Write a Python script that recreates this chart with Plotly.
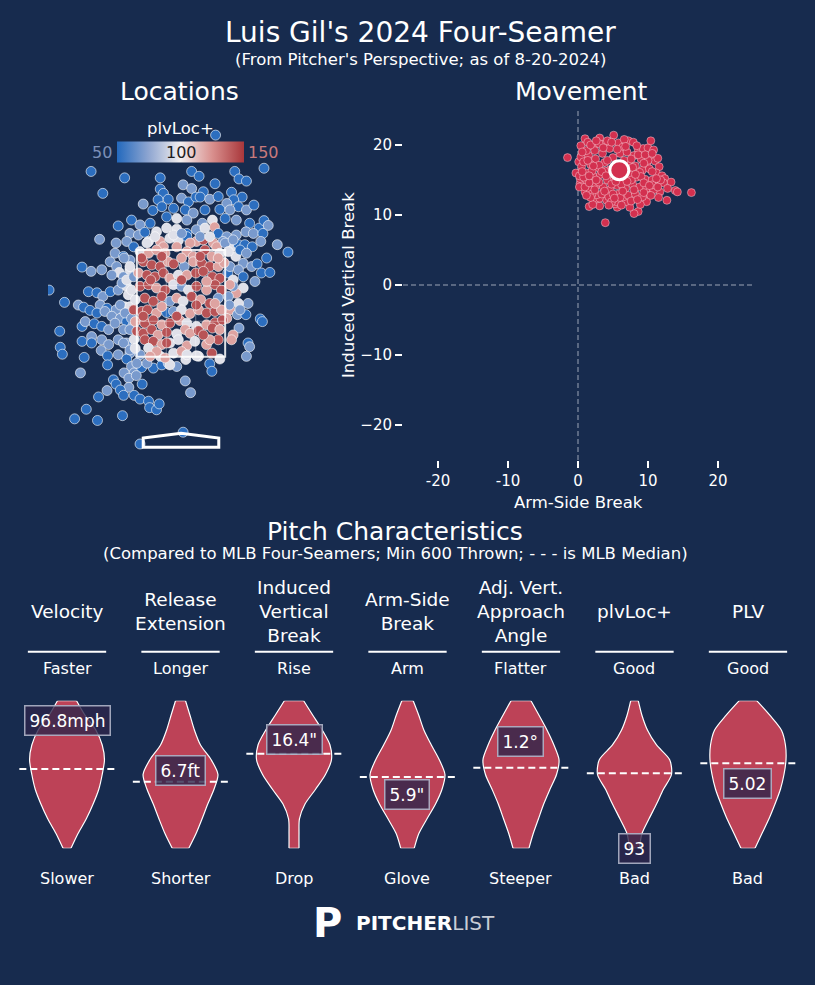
import plotly.graph_objects as go

BG = "#172B4E"
FONT = "DejaVu Sans"
RED = "#D3304F"
VIOLIN = "#BD4257"

# ---- pitch locations (ft, pitcher's view) and plvLoc+ of each pitch ----
loc_x = [
    0.65, -1.69, -1.06, -0.39, 0.20, 0.34, 1.01, 1.09, 1.23, 1.56,
    -1.47, 0.64, 0.04, 0.20, -0.39, -0.33, 0.42, 0.95, 1.15, 0.99,
    -0.71, -0.43, -0.24, 0.01, 0.14, 0.28, 0.36, 0.54, 0.70, 0.86,
    1.08, 1.23, 1.37, -0.53, -0.36, -0.14, -0.08, 0.08, 0.23, 0.45,
    0.73, 0.92, -0.93, -0.77, -0.58, -0.27, 0.11, 0.40, 0.59, 0.83,
    1.04, 1.29, 1.47, 1.56, 1.64, -1.18, -0.96, -0.80, -0.68, -0.46,
    -0.27, -0.08, 0.11, 0.29, 0.45, 0.63, 0.70, 0.86, 1.04, 1.22,
    1.36, 1.54, -1.53, -1.22, -1.02, -0.89, -0.61, -0.39, -0.21, -0.05,
    0.11, 0.29, 0.42, 0.61, 0.79, 0.95, 1.08, 1.20, 1.34, 1.50,
    1.81, 2.01, -1.24, -1.08, -0.96, -1.33, -1.21, -1.16, -1.86, -1.69,
    -1.49, -1.30, -1.08, -0.96, 1.03, 1.17, 1.33, 1.43, 1.61, 1.51,
    1.67, 1.39, 0.88, 0.98, 1.17, 1.04, 0.89, -2.48, -1.74, -1.58,
    -1.47, -1.33, -1.18, -1.02, -0.99, -2.19, -1.93, -1.83, -1.71, -1.52,
    -1.39, -1.22, -1.06, -1.58, -1.43, -1.30, -1.14, -1.02, 1.26, 1.08,
    0.92, 0.86, 1.06, 1.22, -2.28, -1.86, -1.80, -1.63, -1.49, -1.36,
    -1.24, -1.08, -0.91, -1.68, -1.86, -1.68, -1.49, -1.36, -1.18, -1.02,
    -0.88, 1.09, 0.98, 0.95, 1.49, 1.53, 1.26, 1.29, 1.23, -2.27,
    -2.23, -1.82, -1.50, -1.38, -1.18, -0.96, -0.77, -1.38, -1.02, -0.93,
    -0.88, -0.74, -1.89, -1.27, -1.22, -1.07, -0.98, -0.84, -0.52, -0.36,
    -0.24, -0.08, 0.09, 0.54, 0.58, 0.73, 0.33, -0.73, -0.98, -1.14,
    -1.08, -1.39, -1.55, 0.08, 0.18, -0.88, -0.77, -0.61, -0.59, -0.46,
    -0.41, -1.78, -2.00, -1.57, -1.10, 0.04, -0.77,
    -1.07, -0.96, -1.11, -1.02, -0.89, -0.93, -1.14, -0.96, -1.05, -0.93,
    -0.96, -1.08, -0.96, -0.83, -0.64, -0.39, -0.21, -0.64, -0.49, -0.33,
    -0.14, 0.01, 0.17, 0.36, 0.54, 0.67, 0.83, 0.98, 1.11, 1.23,
    0.92, 1.08, 0.98, 1.17, 0.91, 1.11,
    -0.77, -0.61, -0.46, -0.30, -0.08, 0.11, 0.23, 0.45, 0.58, 0.73,
    0.89, -0.71, -0.55, -0.39, -0.24, -0.14, 0.06, 0.23, 0.39, 0.54,
    0.70, 0.81, -0.80, -0.64, -0.49, -0.33, -0.21, -0.05, 0.11, 0.28,
    0.42, 0.59, 0.73, -0.77, -0.61, -0.46, -0.30, -0.14, 0.01, 0.14,
    0.29, 0.48, 0.64, 0.76, 0.92, -0.86, -0.68, -0.52, -0.36, -0.21,
    -0.08, 0.04, 0.20, 0.37, 0.54, 0.70, -0.89, -0.74, -0.63, -0.46,
    -0.27, -0.14, 0.01, 0.17, 0.33, 0.48, 0.64, 0.76, -0.86, -0.68,
    -0.52, -0.36, -0.21, -0.02, 0.11, 0.29, 0.48, 0.64, 0.78, -0.83,
    -0.71, -0.55, -0.43, -0.27, -0.08, 0.08, 0.17, 0.33, 0.59, 0.73,
    -0.68, -0.52, -0.36, -0.21, -0.05, 0.11, 0.26, 0.48, 0.70, 0.54,
    -0.86, -0.61, -0.46, -0.30, -0.14, 0.01, 0.29,
    -0.74, -0.36, 0.01, 0.36, 0.70, -0.57, 0.01, 0.48, -0.36, 0.29,
    -0.71, -0.08, 0.64, -0.27, 0.42, -0.58, 0.11, 0.58,
]
loc_y = [
    5.65, 4.97, 4.85, 4.85, 4.97, 4.88, 4.97, 4.83, 4.79, 5.03,
    4.56, 4.74, 4.72, 4.65, 4.64, 4.56, 4.59, 4.58, 4.49, 4.44,
    4.36, 4.44, 4.45, 4.47, 4.40, 4.49, 4.49, 4.45, 4.50, 4.37,
    4.31, 4.25, 4.34, 4.24, 4.31, 4.28, 4.09, 4.25, 4.19, 4.25,
    4.26, 4.25, 4.06, 3.97, 4.00, 4.12, 4.06, 4.00, 4.06, 4.09,
    4.06, 4.00, 3.91, 4.05, 3.96, 3.95, 3.81, 3.78, 3.83, 3.84,
    3.91, 3.89, 3.81, 3.88, 3.91, 3.93, 3.81, 3.75, 3.78, 3.84,
    3.81, 3.81, 3.70, 3.63, 3.66, 3.56, 3.66, 3.66, 3.72, 3.68,
    3.75, 3.66, 3.69, 3.63, 3.66, 3.56, 3.60, 3.60, 3.56, 3.66,
    3.60, 3.46, 3.44, 3.38, 3.31, 3.28, 3.19, 3.08, 3.18, 3.10,
    3.13, 3.03, 3.00, 3.13, 3.38, 3.25, 3.19, 3.24, 3.35, 3.07,
    3.08, 2.91, 3.07, 2.94, 2.79, 2.69, 2.63, 2.75, 2.72, 2.70,
    2.63, 2.72, 2.75, 2.82, 2.66, 2.52, 2.47, 2.43, 2.37, 2.47,
    2.41, 2.38, 2.44, 2.32, 2.35, 2.26, 2.22, 2.16, 2.50, 2.50,
    2.38, 2.22, 2.29, 2.29, 1.98, 2.07, 2.16, 2.12, 2.07, 2.01,
    2.13, 2.01, 2.07, 1.88, 1.79, 1.76, 1.82, 1.73, 1.82, 1.76,
    1.83, 2.04, 1.91, 1.82, 2.21, 2.16, 1.76, 1.69, 1.51, 1.68,
    1.55, 1.49, 1.62, 1.52, 1.54, 1.57, 1.54, 1.35, 1.46, 1.32,
    1.20, 1.30, 1.20, 1.07, 0.99, 1.20, 1.10, 1.15, 1.29, 1.35,
    1.38, 1.32, 1.45, 1.37, 1.23, 1.46, 1.51, 0.99, 0.93, 0.88,
    0.78, 0.87, 0.75, 1.05, 0.83, 0.78, 0.71, 0.67, 0.55, 0.51,
    0.62, 0.52, 0.34, 0.31, 0.40, 0.09, -0.13,
    3.35, 3.19, 2.88, 2.94, 3.00, 2.75, 2.47, 2.44, 2.32, 2.22,
    2.01, 1.76, 1.63, 1.38, 1.38, 1.51, 1.35, 3.63, 3.75, 3.56,
    3.78, 3.81, 3.63, 3.75, 3.75, 3.56, 3.63, 3.69, 3.50, 3.44,
    3.19, 3.13, 2.82, 3.00, 2.47, 2.38,
    3.47, 3.44, 3.50, 3.44, 3.56, 3.47, 3.38, 3.50, 3.38, 3.44,
    3.47, 3.28, 3.22, 3.19, 3.28, 3.24, 3.19, 3.28, 3.25, 3.19,
    3.19, 3.26, 3.07, 3.03, 3.00, 3.07, 2.97, 3.03, 3.03, 3.07,
    3.10, 3.00, 2.97, 2.82, 2.85, 2.79, 2.75, 2.85, 2.82, 2.75,
    2.82, 2.75, 2.85, 2.75, 2.85, 2.57, 2.60, 2.54, 2.63, 2.54,
    2.60, 2.54, 2.63, 2.57, 2.50, 2.60, 2.38, 2.35, 2.38, 2.32,
    2.33, 2.35, 2.38, 2.31, 2.38, 2.32, 2.35, 2.38, 2.16, 2.13,
    2.19, 2.10, 2.13, 2.18, 2.13, 2.07, 2.10, 2.14, 2.19, 1.98,
    1.94, 2.01, 1.91, 1.96, 1.93, 2.01, 1.94, 1.99, 2.04, 2.01,
    1.82, 1.79, 1.73, 1.76, 1.82, 1.71, 1.79, 1.73, 1.82, 1.82,
    1.66, 1.66, 1.60, 1.48, 1.57, 1.60, 1.52,
    3.35, 3.38, 3.35, 3.38, 3.35, 2.94, 2.94, 2.91, 2.44, 2.47,
    2.26, 2.26, 2.50, 1.76, 1.91, 1.51, 1.54, 1.57,
]
loc_plv = [
    52, 52, 52, 52, 52, 52, 52, 52, 52, 52,
    52, 52, 70, 70, 52, 52, 52, 52, 52, 52,
    70, 52, 52, 70, 52, 52, 52, 70, 52, 70,
    52, 70, 52, 52, 52, 52, 95, 52, 70, 52,
    52, 70, 52, 70, 52, 52, 70, 70, 95, 52,
    70, 52, 52, 52, 70, 52, 70, 70, 52, 95,
    95, 95, 52, 70, 95, 120, 52, 70, 70, 70,
    70, 52, 70, 70, 70, 52, 95, 120, 95, 95,
    52, 120, 142, 120, 70, 95, 52, 52, 52, 70,
    70, 52, 70, 52, 70, 70, 70, 95, 52, 70,
    70, 70, 70, 95, 95, 70, 70, 52, 52, 52,
    52, 70, 52, 95, 95, 120, 70, 52, 52, 52,
    70, 52, 70, 95, 95, 52, 70, 52, 52, 70,
    52, 70, 95, 52, 70, 70, 70, 52, 70, 95,
    120, 120, 70, 52, 52, 52, 70, 52, 52, 70,
    70, 70, 70, 70, 52, 52, 70, 70, 70, 70,
    95, 70, 120, 120, 52, 52, 52, 70, 70, 52,
    52, 52, 70, 52, 70, 70, 70, 52, 52, 70,
    70, 52, 70, 52, 52, 70, 70, 70, 52, 52,
    70, 70, 95, 52, 52, 95, 95, 52, 70, 52,
    52, 70, 52, 70, 70, 52, 52, 52, 52, 52,
    52, 52, 52, 52, 52, 52, 52,
    70, 95, 70, 95, 70, 95, 70, 95, 70, 70,
    70, 70, 70, 70, 70, 95, 95, 95, 95, 120,
    95, 70, 120, 70, 95, 120, 70, 70, 52, 70,
    70, 70, 70, 52, 70, 70,
    95, 120, 120, 120, 120, 120, 120, 142, 120, 95,
    95, 142, 142, 142, 120, 142, 70, 120, 142, 142,
    120, 120, 120, 142, 142, 142, 120, 95, 120, 142,
    142, 142, 142, 142, 142, 120, 142, 95, 70, 95,
    142, 120, 142, 142, 120, 95, 142, 142, 142, 70,
    120, 95, 142, 120, 142, 70, 142, 142, 142, 120,
    52, 70, 95, 120, 120, 142, 142, 120, 120, 142,
    142, 120, 142, 120, 95, 95, 120, 142, 142, 142,
    142, 142, 120, 142, 95, 120, 120, 142, 142, 120,
    142, 142, 120, 95, 95, 120, 95, 120, 142, 120,
    95, 95, 120, 120, 95, 120, 95,
    142, 142, 120, 142, 120, 142, 142, 120, 120, 142,
    142, 142, 120, 142, 142, 120, 95, 142,
]

# ---- movement (inches) ----
mov_x = [
    -1.5, 0.1, 0.4, 1.0, 1.4, 2.2, 3.1, 3.9, 5.1, 5.8,
    6.4, 7.2, 7.9, 8.6, 9.3, 10.0, 10.4, 10.8, 10.2, 11.0,
    11.6, 11.2, 12.0, 12.4, 13.3, 13.9, 14.2, 16.2, 12.7, 11.7,
    11.0, 9.9, 9.8, 8.6, 8.0, 8.9, 7.4, 6.8, 5.6, 5.3,
    3.9, 3.1, 2.7, 1.6, 2.1, 1.0, 0.3, -0.3, 0.5, 0.3,
    0.2, 3.1, 4.1, 5.5, 6.5, 2.7, 1.7, 1.0, 1.2, 0.2,
    1.5, 2.5, 3.5, 4.5, 5.0, 6.0, 7.0, 8.0, 9.0, 9.8,
    1.8, 2.8, 3.8, 4.6, 7.2, 8.2, 9.2, 10.2, 1.2, 2.2,
    3.2, 4.2, 5.2, 6.4, 7.4, 8.4, 9.6, 10.6, 1.6, 2.6,
    3.6, 4.6, 5.6, 6.8, 7.8, 8.8, 9.8, 10.8, 2.0, 3.4,
    4.4, 5.8, 7.2, 8.2, 9.2, 7.6, 4.8, 2.4, 3.0, 4.2,
    6.6, 8.4, 1.2, 0.4, 0.8, 5.5, 6.6, 3.0, 2.0, 8.8,
    10.0, 11.4, 10.6, 12.2, 11.8, 3.8, 6.2, 7.0, 4.8, 5.0,
    6.0, 3.0, 7.6, 9.0, 8.5, 6.2, 0.8, 1.8, 12.8, 11.5,
    0.6, 1.8, 2.6, 3.6, 4.8, 5.6, 6.8, 7.6, 8.6, 9.6,
    10.6, 1.4, 2.2, 3.4, 4.2, 6.2, 7.8, 9.4, 10.6, 11.2,
    0.6, 1.6, 2.6, 4.0, 5.4, 7.0, 8.2, 9.4, 10.2, 11.4,
    1.2, 2.4, 3.8, 5.2, 6.4, 8.0, 9.4, 10.4, 4.4, 6.2,
]
mov_y = [
    18.2, 17.6, 19.9, 20.9, 20.4, 19.8, 21.0, 20.2, 21.4, 20.3,
    19.7, 20.6, 20.4, 19.3, 19.5, 19.6, 20.6, 19.3, 18.2, 17.7,
    16.9, 16.0, 15.6, 15.2, 14.7, 13.5, 13.3, 13.2, 12.1, 13.3,
    14.2, 12.9, 11.9, 10.5, 10.2, 11.5, 11.1, 11.9, 11.1, 11.6,
    8.9, 11.3, 12.3, 11.2, 11.5, 13.3, 14.5, 16.0, 16.9, 15.2,
    14.0, 12.4, 12.1, 11.9, 12.6, 12.9, 13.6, 14.0, 15.0, 15.6,
    18.5, 18.0, 18.8, 19.5, 18.2, 18.8, 19.0, 18.5, 18.0, 17.2,
    17.2, 16.8, 17.5, 16.5, 17.6, 17.0, 16.4, 16.6, 16.0, 15.5,
    15.8, 15.0, 15.3, 15.0, 15.8, 15.4, 15.1, 15.0, 14.6, 14.2,
    14.0, 13.6, 14.2, 13.8, 14.4, 14.0, 13.8, 13.6, 13.0, 13.0,
    12.6, 13.0, 12.8, 13.0, 12.6, 12.0, 11.9, 19.2, 20.2, 20.6,
    20.8, 19.9, 19.2, 18.3, 17.6, 17.3, 17.8, 17.1, 16.3, 16.1,
    17.8, 18.1, 14.3, 14.6, 15.0, 16.3, 16.0, 16.5, 14.4, 13.0,
    12.5, 14.7, 15.0, 15.5, 12.2, 14.4, 15.4, 12.5, 13.8, 12.5,
    19.0, 20.0, 20.6, 19.6, 20.4, 19.4, 19.8, 18.0, 18.6, 18.6,
    18.8, 17.8, 17.0, 16.2, 17.8, 17.2, 16.8, 17.4, 16.2, 15.2,
    16.2, 15.6, 15.0, 15.6, 14.8, 14.8, 15.8, 14.6, 14.2, 14.0,
    12.8, 13.6, 13.4, 12.4, 13.4, 13.6, 13.2, 12.8, 11.4, 11.4,
]
avg_hb = 5.9
avg_ivb = 16.4

# strike zone and plate (ft)
zone_x = [-0.83, 0.83]
zone_y = [1.5, 3.5]
plate_x = [-0.71, 0.0, 0.71, 0.71, -0.71]
plate_y = [-0.02, 0.07, -0.02, -0.19, -0.19]

# ---- pitch characteristics ----
metrics = ["Velocity", "Release<br>Extension", "Induced<br>Vertical<br>Break", "Arm-Side<br>Break",
           "Adj. Vert.<br>Approach<br>Angle", "plvLoc+", "PLV"]
top_labels = ["Faster", "Longer", "Rise", "Arm", "Flatter", "Good", "Good"]
bottom_labels = ["Slower", "Shorter", "Drop", "Glove", "Steeper", "Bad", "Bad"]
value_text = ["96.8mph", "6.7ft", "16.4\"", "5.9\"", "1.2°", "93", "5.02"]
# percentile position within the MLB distribution (0 = bottom, 1 = top)
value_pos = [0.866, 0.525, 0.739, 0.364, 0.725, 0.0, 0.436]
median_pos = [0.537, 0.451, 0.641, 0.483, 0.546, 0.508, 0.576]
# density half-widths at levels 0, 0.1, ..., 1.0
levels = [0.0, 0.1, 0.2, 0.3, 0.4, 0.5, 0.6, 0.7, 0.8, 0.9, 1.0]
violin_widths = [
    [0.035, 0.097, 0.17, 0.23, 0.28, 0.31, 0.33, 0.31, 0.255, 0.16, 0.084],
    [0.073, 0.137, 0.19, 0.24, 0.295, 0.33, 0.27, 0.176, 0.123, 0.084, 0.044],
    [0.044, 0.044, 0.048, 0.097, 0.19, 0.277, 0.33, 0.317, 0.25, 0.167, 0.085],
    [0.059, 0.1, 0.172, 0.247, 0.304, 0.33, 0.28, 0.21, 0.145, 0.1, 0.05],
    [0.07, 0.108, 0.154, 0.2, 0.255, 0.313, 0.335, 0.29, 0.23, 0.16, 0.088],
    [0.044, 0.066, 0.128, 0.194, 0.255, 0.326, 0.31, 0.194, 0.115, 0.066, 0.033],
    [0.062, 0.123, 0.185, 0.238, 0.286, 0.317, 0.335, 0.33, 0.295, 0.194, 0.077],
]

W, H = 815, 985


def px(v):
    return v / W


def py(v):
    return 1 - v / H


vlag = [[0.0, "#2369BD"], [0.25, "#8FA6D1"], [0.5, "#F3EFEF"], [0.75, "#D9908E"], [1.0, "#A9373B"]]

fig = go.Figure()

# Locations
fig.add_trace(go.Scatter(
    x=loc_x, y=loc_y, mode="markers", xaxis="x", yaxis="y",
    marker=dict(size=10, color=loc_plv, colorscale=vlag, cmin=50, cmax=150,
                line=dict(color="white", width=0.6), showscale=True,
                colorbar=dict(orientation="h", x=px(180.5), y=py(151.5), xanchor="center", yanchor="middle",
                              len=127 / W, thickness=21, showticklabels=False, ticks="",
                              outlinewidth=0, xpad=0, ypad=0)),
    hoverinfo="skip", showlegend=False))

# Movement
fig.add_trace(go.Scatter(
    x=mov_x, y=mov_y, mode="markers", xaxis="x2", yaxis="y2",
    marker=dict(size=8, color=RED, line=dict(color="rgba(255,235,240,0.7)", width=0.6)),
    hoverinfo="skip", showlegend=False))
fig.add_trace(go.Scatter(
    x=[avg_hb], y=[avg_ivb], mode="markers", xaxis="x2", yaxis="y2",
    marker=dict(size=19, color=RED, line=dict(color="white", width=3)),
    hoverinfo="skip", showlegend=False))

# Violins: left side, right side filled to it, flat ends
edge = dict(color="white", width=1.2, shape="spline", smoothing=0.8)
for i, w in enumerate(violin_widths):
    left = [i - v for v in w]
    right = [i + v for v in w]
    fig.add_trace(go.Scatter(x=left, y=levels, xaxis="x3", yaxis="y3", mode="lines", line=edge,
                             cliponaxis=False, hoverinfo="skip", showlegend=False))
    fig.add_trace(go.Scatter(x=right, y=levels, xaxis="x3", yaxis="y3", mode="lines", line=edge,
                             fill="tonextx", fillcolor=VIOLIN,
                             cliponaxis=False, hoverinfo="skip", showlegend=False))
    fig.add_trace(go.Scatter(x=[left[0], right[0], None, left[-1], right[-1]],
                             y=[levels[0], levels[0], None, levels[-1], levels[-1]],
                             xaxis="x3", yaxis="y3", mode="lines", line=dict(color="white", width=1.2),
                             cliponaxis=False, hoverinfo="skip", showlegend=False))
    fig.add_trace(go.Scatter(
        x=[i - 0.42, i + 0.42], y=[median_pos[i], median_pos[i]], xaxis="x3", yaxis="y3",
        mode="lines", line=dict(color="white", width=2, dash="7px,4px"),
        cliponaxis=False, hoverinfo="skip", showlegend=False))

shapes = []
# strike zone with thirds
shapes.append(dict(type="rect", xref="x", yref="y", x0=zone_x[0], x1=zone_x[1], y0=zone_y[0], y1=zone_y[1],
                   line=dict(color="rgba(255,255,255,0.85)", width=2), layer="above"))
for k in (1, 2):
    xv = zone_x[0] + (zone_x[1] - zone_x[0]) * k / 3
    yv = zone_y[0] + (zone_y[1] - zone_y[0]) * k / 3
    shapes.append(dict(type="line", xref="x", yref="y", x0=xv, x1=xv, y0=zone_y[0], y1=zone_y[1],
                       line=dict(color="rgba(255,255,255,0.35)", width=1), layer="above"))
    shapes.append(dict(type="line", xref="x", yref="y", x0=zone_x[0], x1=zone_x[1], y0=yv, y1=yv,
                       line=dict(color="rgba(255,255,255,0.35)", width=1), layer="above"))
plate_path = "M " + " L ".join(f"{a},{b}" for a, b in zip(plate_x, plate_y)) + " Z"
shapes.append(dict(type="path", xref="x", yref="y", path=plate_path,
                   line=dict(color="white", width=3), layer="above"))
# movement crosshair
shapes.append(dict(type="line", xref="x2", yref="y2", x0=-25, x1=25, y0=0, y1=0,
                   line=dict(color="rgba(200,206,218,0.75)", width=1, dash="5px,3px"), layer="below"))
shapes.append(dict(type="line", xref="x2", yref="y2", x0=0, x1=0, y0=-25, y1=25,
                   line=dict(color="rgba(200,206,218,0.75)", width=1, dash="5px,3px"), layer="below"))
# rules under the metric names
for i in range(len(metrics)):
    shapes.append(dict(type="line", xref="x3", yref="paper", x0=i - 0.345, x1=i + 0.345,
                       y0=py(651.7), y1=py(651.7), line=dict(color="white", width=2)))

ann = []


def text(x, y, s, size, color="white", **kw):
    d = dict(x=x, y=y, xref=kw.pop("xref", "paper"), yref=kw.pop("yref", "paper"), text=s, showarrow=False,
             font=dict(family=FONT, size=size, color=color), xanchor="center", yanchor="middle")
    d.update(kw)
    ann.append(d)


text(px(420), py(33), "Luis Gil's 2024 Four-Seamer", 28)
text(px(420), py(59), "(From Pitcher's Perspective; as of 8-20-2024)", 16.5)
text(px(179), py(92), "Locations", 25)
text(px(581.5), py(92), "Movement", 25)
text(px(180), py(128), "plvLoc+", 16.5)
text(px(102), py(152), "50", 16, color="#7B8FB8")
text(px(181.5), py(152), "100", 16, color="#1E1E1E")
text(px(263), py(152), "150", 16, color="#C97A7C")
text(px(578), py(502), "Arm-Side Break", 16.5)
text(px(348), py(285), "Induced Vertical Break", 16.5, textangle=-90)
text(px(395), py(531), "Pitch Characteristics", 25)
text(px(395), py(553), "(Compared to MLB Four-Seamers; Min 600 Thrown; - - - is MLB Median)", 16.5)

for i in range(len(metrics)):
    text(i, py(611), metrics[i], 18.5, xref="x3")
    text(i, py(668), top_labels[i], 16, xref="x3")
    text(i, py(878), bottom_labels[i], 16, xref="x3")
    ann.append(dict(x=i, y=value_pos[i], xref="x3", yref="y3", text=value_text[i], showarrow=False,
                    font=dict(family=FONT, size=17, color="white"), bgcolor="rgba(45,38,75,0.8)",
                    bordercolor="rgba(175,180,200,0.9)", borderwidth=1.5, borderpad=4,
                    xanchor="center", yanchor="middle"))

# logo
text(px(327), py(923), "<b>P</b>", 40)
ann.append(dict(x=px(354), y=py(923), xref="paper", yref="paper", showarrow=False, xanchor="left", yanchor="middle",
                text="<b>PITCHER</b><span style='color:#C9CDD6'>LIST</span>",
                font=dict(family=FONT, size=20, color="white")))

tick_font = dict(family=FONT, size=15, color="white")
fig.update_layout(
    width=W, height=H, margin=dict(l=0, r=0, t=0, b=0),
    paper_bgcolor=BG, plot_bgcolor=BG,
    font=dict(family=FONT, color="white"),
    xaxis=dict(domain=[px(48), px(314)], range=[-2.5, 2.5], visible=False),
    yaxis=dict(domain=[py(460), py(110)], range=[-0.43, 6.12], visible=False),
    xaxis2=dict(domain=[px(403), px(753)], range=[-25, 25], anchor="y2",
                tickvals=[-20, -10, 0, 10, 20], ticktext=["-20", "-10", "0", "10", "20"],
                ticks="outside", ticklen=7, tickwidth=1.5, tickcolor="white", tickfont=tick_font,
                showgrid=False, zeroline=False, showline=False),
    yaxis2=dict(domain=[py(460), py(110)], range=[-25, 25], anchor="x2",
                tickvals=[-20, -10, 0, 10, 20], ticktext=["\u221220", "\u221210", "0", "10", "20"],
                ticks="outside", ticklen=7, tickwidth=1.5, tickcolor="white", tickfont=tick_font,
                showgrid=False, zeroline=False, showline=False),
    xaxis3=dict(domain=[0.0126, 0.9874], range=[-0.5, 6.5], visible=False, anchor="y3"),
    yaxis3=dict(domain=[py(848.3), py(700.7)], range=[0, 1], visible=False, anchor="x3"),
    shapes=shapes, annotations=ann, showlegend=False,
)

fig.write_html("out.html", config={"displayModeBar": False},
               post_script="document.body.style.margin='0';")
